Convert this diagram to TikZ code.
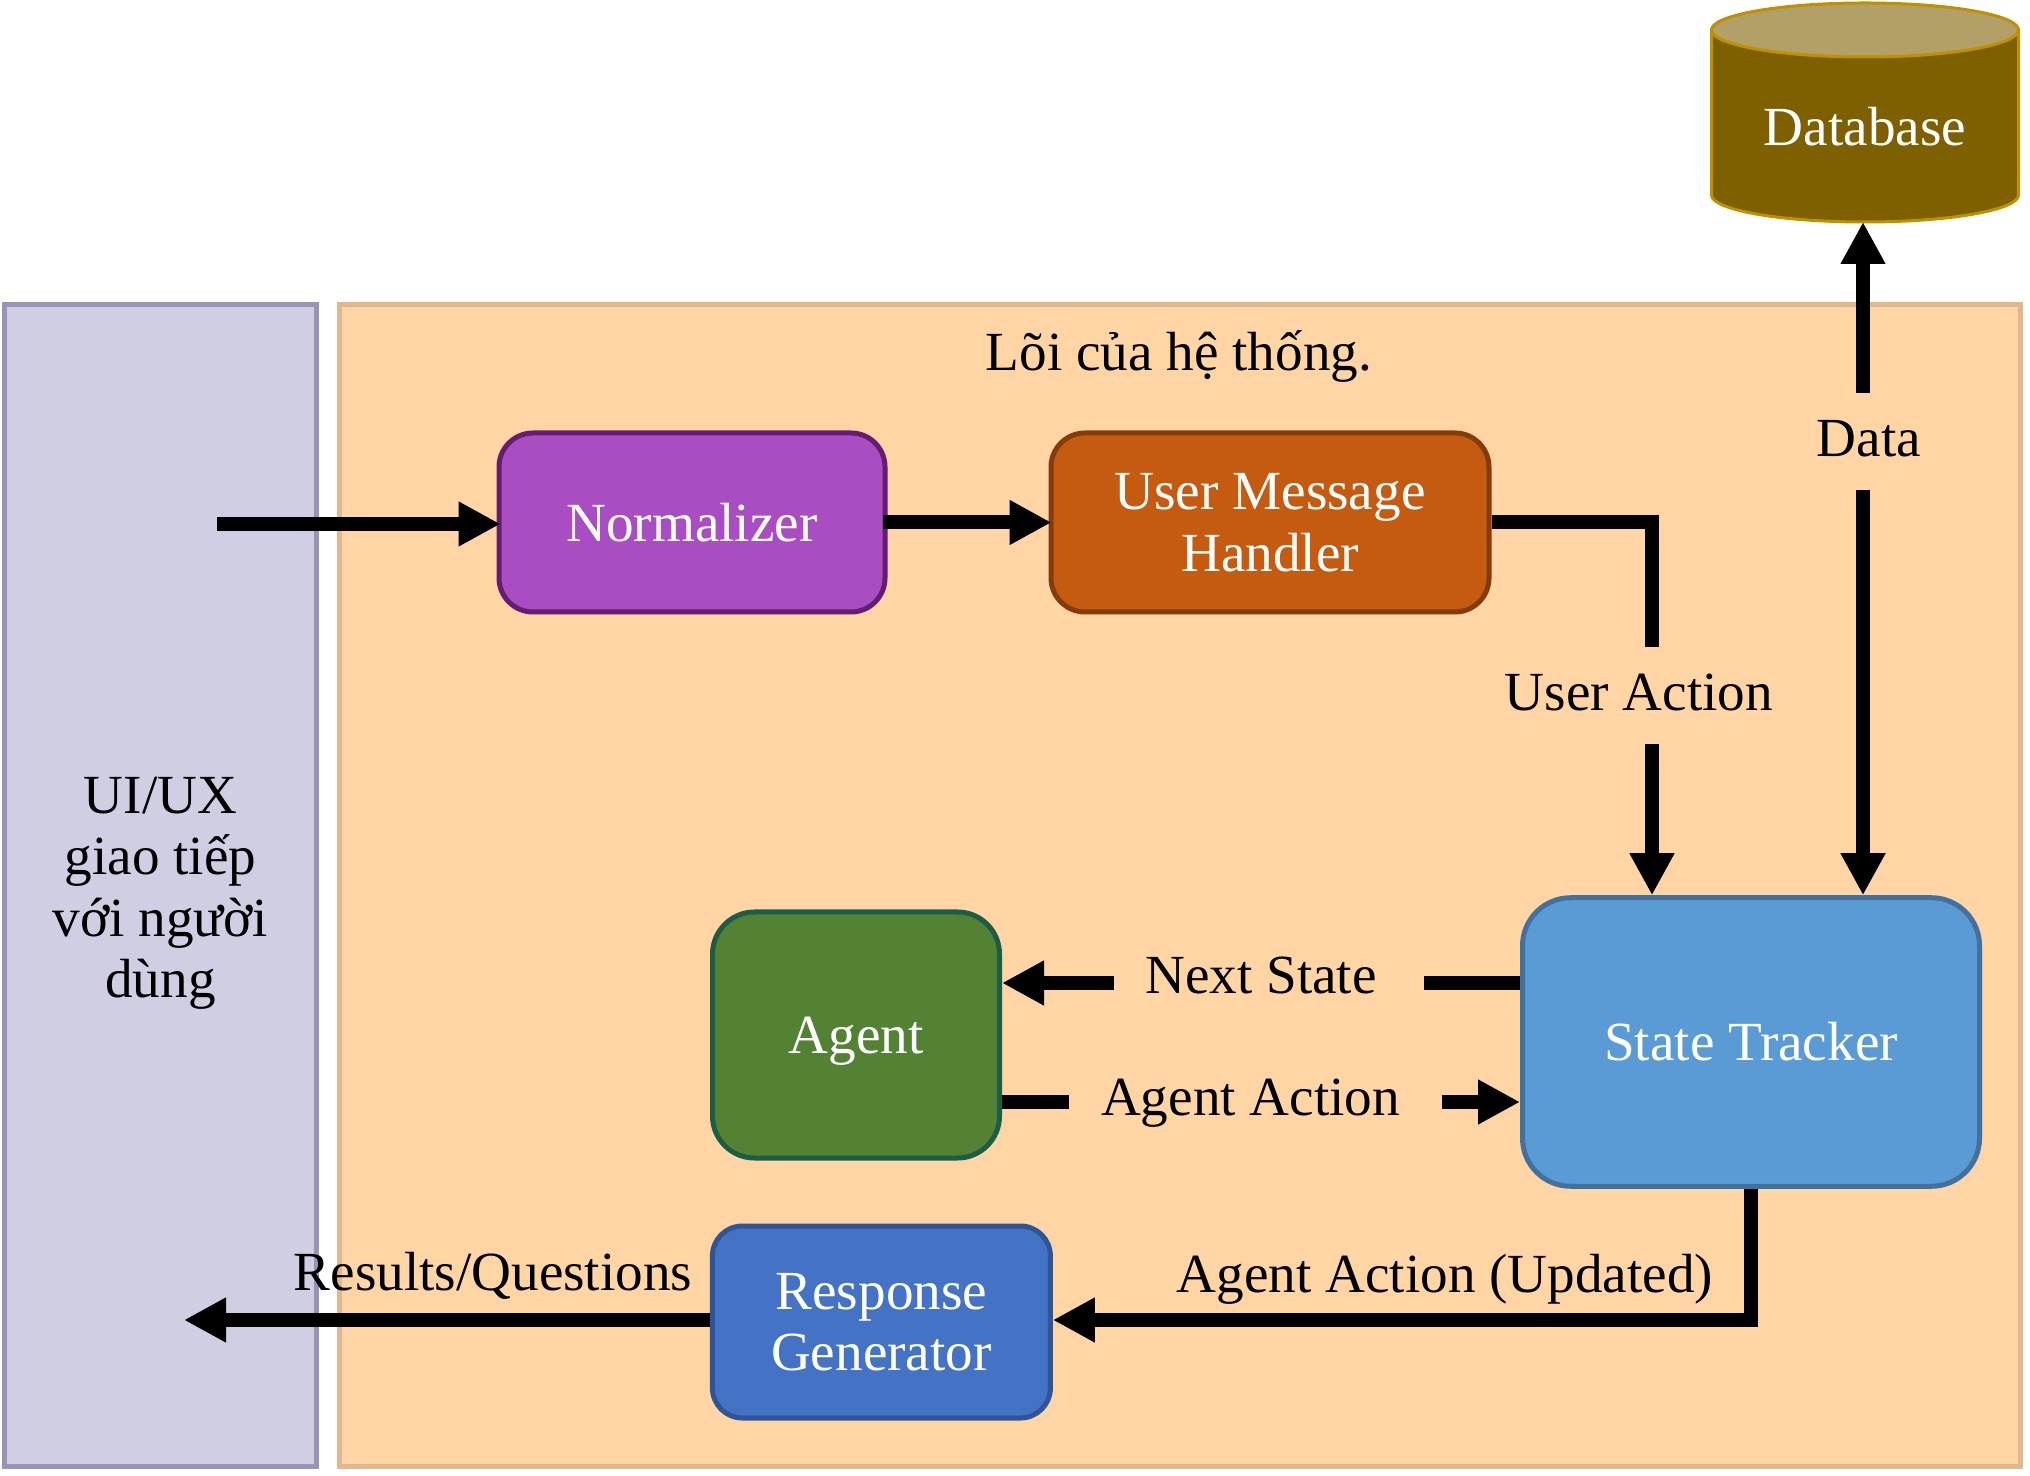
\documentclass[tikz,border=0pt]{standalone}
\usepackage{fontspec}
\setmainfont{Liberation Serif}
\usetikzlibrary{arrows.meta}
\definecolor{uifill}{HTML}{D0CEE2}
\definecolor{uiline}{HTML}{9A93B8}
\definecolor{corefill}{HTML}{FFD5A5}
\definecolor{coreline}{HTML}{E3B78E}
\definecolor{normfill}{HTML}{A94EC2}
\definecolor{normline}{HTML}{651C73}
\definecolor{msgfill}{HTML}{C55A11}
\definecolor{msgline}{HTML}{843C0C}
\definecolor{trackfill}{HTML}{5B9BD5}
\definecolor{trackline}{HTML}{41719C}
\definecolor{agentfill}{HTML}{548235}
\definecolor{agentline}{HTML}{1B5E45}
\definecolor{respfill}{HTML}{4472C4}
\definecolor{respline}{HTML}{2F5597}
\definecolor{dbfill}{HTML}{7F6000}
\definecolor{dbtop}{HTML}{B3A068}
\definecolor{dbline}{HTML}{BF9000}
\tikzset{
    every node/.style={font=\fontsize{15.7}{17.5}\selectfont},
    panel/.style={draw,line width=.05cm,align=center,inner sep=0pt},
    block/.style={draw,line width=.05cm,align=center,text=white,inner sep=0pt},
    tag/.style={inner sep=0pt,outer sep=0pt,minimum height=.97cm,text height=.37cm,text depth=.11cm},
    wire/.style={line width=.14cm},
    arrow/.style={wire,-{Triangle[length=.42cm,width=.42cm]}}
}
\begin{document}
\begin{tikzpicture}
    \useasboundingbox (0,0) rectangle (20.30,14.75);
    % the two panels
    \node[panel,fill=uifill,draw=uiline,minimum width=3.115cm,minimum height=11.61cm] (ui) at (1.605,5.895) {};
    \node[align=center] (uiname) at (1.605,5.815) {UI/UX\\giao tiếp\\với người\\dùng};
    \node[panel,fill=corefill,draw=coreline,minimum width=16.81cm,minimum height=11.61cm] (core) at (11.80,5.895) {};
    \node (title) at (11.79,11.19) {Lõi của hệ thống.};
    % the database
    \draw[dbline,line width=.03cm,fill=dbfill] (17.115,14.45) -- (17.115,12.80) arc[x radius=1.535,y radius=.27,start angle=180,end angle=360] -- (20.185,14.45) -- cycle;
    \draw[dbline,line width=.03cm,fill=dbtop] (18.65,14.45) ellipse[x radius=1.535,y radius=.27];
    \node[text=white,inner sep=0pt,outer sep=0pt,minimum height=1.90cm] (db) at (18.65,13.48) {Database};
    % the blocks
    \node[block,fill=normfill,draw=normline,rounded corners=.34cm,minimum width=3.86cm,minimum height=1.79cm] (norm) at (6.92,9.525) {Normalizer};
    \node[block,fill=msgfill,draw=msgline,rounded corners=.34cm,minimum width=4.38cm,minimum height=1.79cm] (msg) at (12.70,9.525) {User Message\\Handler};
    \node[block,fill=trackfill,draw=trackline,rounded corners=.48cm,minimum width=4.57cm,minimum height=2.885cm] (tracker) at (17.51,4.33) {State Tracker};
    \node[block,fill=agentfill,draw=agentline,rounded corners=.42cm,minimum width=2.87cm,minimum height=2.46cm,text depth=0pt] (agent) at (8.56,4.40) {Agent};
    \node[block,fill=respfill,draw=respline,rounded corners=.3cm,minimum width=3.38cm,minimum height=1.92cm] (resp) at (8.814,1.53) {Response\\Generator};
    % the labels that break the lines
    \node[tag,text depth=.06cm] (useract) at (16.52,7.795) {User Action\hspace*{.26cm}};
    \node[tag,text depth=.06cm] (data) at (18.63,10.335) {\hspace{.12cm}Data};
    \node[tag,minimum width=3.10cm,text depth=.16cm] (next) at (12.69,4.92) {Next State\hspace*{.16cm}};
    \node[tag,minimum width=3.73cm] (act) at (12.555,3.73) {Agent Action\hspace*{.10cm}};
    \node[anchor=base] (results) at (4.93,1.85) {Results/Questions};
    \node[anchor=base] (updated) at (14.45,1.825) {Agent Action (Updated)};
    % free ends
    \coordinate (userin) at (2.17,9.51);
    \coordinate (userout) at (1.84,1.55);
    % the connectors
    \draw[arrow,shorten >=-.04cm] (userin) -- (userin -| norm.west);
    \draw[arrow,shorten <=-.05cm,shorten >=-.03cm] (norm) -- (msg);
    \draw[wire] (msg.east) -| (useract.north);
    \draw[arrow] (useract.south) -- (useract.south |- tracker.north);
    \draw[arrow] (data.north) -- (data.north |- db.south);
    \draw[arrow] (data.south) -- (data.south |- tracker.north);
    \draw[wire] (tracker.west |- next) -- (next.east);
    \draw[arrow] (next.west) -- (agent.east |- next);
    \draw[wire] (agent.east |- act) -- (act.west);
    \draw[arrow] (act.east) -- (tracker.west |- act);
    \draw[arrow] (tracker.south) |- (resp.east |- userout);
    \draw[arrow] (resp.west |- userout) -- (userout);
\end{tikzpicture}
\end{document}
